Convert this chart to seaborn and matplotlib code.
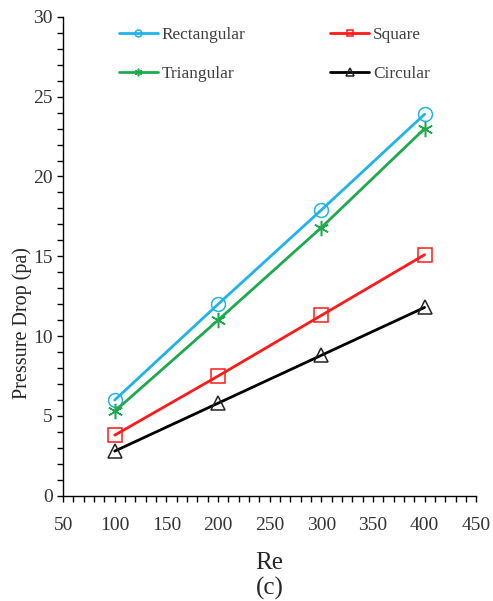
import matplotlib
matplotlib.use("Agg")
import matplotlib.pyplot as plt
import seaborn as sns
import pandas as pd
from matplotlib.ticker import MultipleLocator

re_vals = [100, 200, 300, 400]
rectangular = [6.0, 12.0, 17.9, 23.9]
square = [3.8, 7.5, 11.3, 15.1]
triangular = [5.3, 11.0, 16.8, 23.0]
circular = [2.8, 5.8, 8.8, 11.8]

series_names = ["Rectangular", "Square", "Triangular", "Circular"]
series_values = [rectangular, square, triangular, circular]

sns.set_style("ticks")
plt.rcParams["font.family"] = ["Liberation Serif", "DejaVu Serif"]

fig = plt.figure(figsize=(4.93, 6.01), dpi=100)
ax = fig.add_axes([0.128, 0.175, 0.838, 0.797])

colors = ["#1EB4EA", "#FF1A1A", "#1DAA4E", "#000000"]
markers = ["o", "s", (6, 2, 0), "^"]
msizes = [10, 9.5, 11, 10.5]

handles = {}
for name, vals, c, m, ms in zip(series_names, series_values, colors, markers, msizes):
    df = pd.DataFrame({"Re": re_vals, "dp": vals})
    sns.lineplot(data=df, x="Re", y="dp", ax=ax, color=c, marker=m, markersize=ms,
                 markerfacecolor="none", markeredgecolor=c if c != "#000000" else "#222222",
                 markeredgewidth=1.1, linewidth=2, label=name)
    handles[name] = ax.lines[-1]

ax.set_xlim(50, 450)
ax.set_ylim(0, 30)
ax.xaxis.set_major_locator(MultipleLocator(50))
ax.xaxis.set_minor_locator(MultipleLocator(10))
ax.yaxis.set_major_locator(MultipleLocator(5))
ax.yaxis.set_minor_locator(MultipleLocator(1))
ax.tick_params(which="both", direction="out", length=4, width=1, color="black",
               labelsize=14, labelcolor="#333333")
ax.tick_params(axis="x", pad=11)
for s in ["top", "right"]:
    ax.spines[s].set_visible(False)
for s in ["left", "bottom"]:
    ax.spines[s].set_linewidth(1)
    ax.spines[s].set_color("black")

ax.set_xlabel("Re", fontsize=18, labelpad=13)
fig.text(ax.get_position().x0 + ax.get_position().width / 2, 1 - 588 / 601, "(c)",
         fontsize=18, ha="center", va="center")
ax.set_ylabel("Pressure Drop (pa)", fontsize=14.5)
ax.yaxis.set_label_coords(-0.075, 0.36)

order = ["Rectangular", "Triangular", "Square", "Circular"]
leg = ax.legend([handles[n] for n in order], order, loc="upper left",
                bbox_to_anchor=(0.097, 1.012), ncol=2, frameon=False,
                markerscale=0.5, fontsize=12.4, columnspacing=4.9, handlelength=2.3,
                handletextpad=0.2, labelspacing=1.35, labelcolor="#404040")

fig.savefig("out.png", dpi=100)
